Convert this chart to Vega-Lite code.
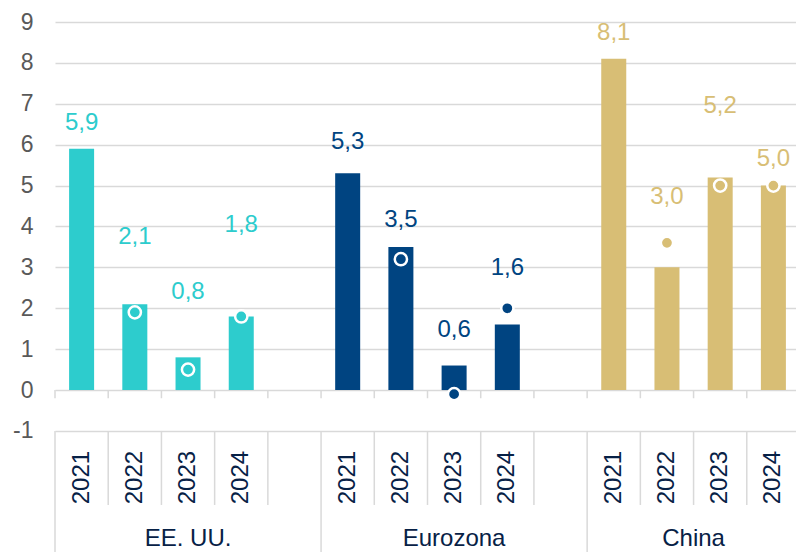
{
  "$schema": "https://vega.github.io/schema/vega-lite/v6.json",
  "width": 741,
  "height": 530,
  "autosize": "none",
  "padding": {"left": 55, "top": 22, "right": 0, "bottom": 0},
  "config": {
    "view": {"stroke": null},
    "font": "Liberation Sans",
    "locale": {"number": {"decimal": ",", "thousands": ".", "grouping": [3], "currency": ["", " €"], "minus": "-"}}
  },
  "datasets": {
    "main": [
      {"group": "EE. UU.", "year": "2021", "slot": "EE. UU. 2021", "value": 5.9, "dot": null, "labelY": 6.53},
      {"group": "EE. UU.", "year": "2022", "slot": "EE. UU. 2022", "value": 2.1, "dot": 1.9, "labelY": 3.75},
      {"group": "EE. UU.", "year": "2023", "slot": "EE. UU. 2023", "value": 0.8, "dot": 0.5, "labelY": 2.4},
      {"group": "EE. UU.", "year": "2024", "slot": "EE. UU. 2024", "value": 1.8, "dot": 1.8, "labelY": 4.03},
      {"group": "Eurozona", "year": "2021", "slot": "Eurozona 2021", "value": 5.3, "dot": null, "labelY": 6.07},
      {"group": "Eurozona", "year": "2022", "slot": "Eurozona 2022", "value": 3.5, "dot": 3.2, "labelY": 4.16},
      {"group": "Eurozona", "year": "2023", "slot": "Eurozona 2023", "value": 0.6, "dot": -0.1, "labelY": 1.47},
      {"group": "Eurozona", "year": "2024", "slot": "Eurozona 2024", "value": 1.6, "dot": 2.0, "labelY": 2.98},
      {"group": "China", "year": "2021", "slot": "China 2021", "value": 8.1, "dot": null, "labelY": 8.72},
      {"group": "China", "year": "2022", "slot": "China 2022", "value": 3.0, "dot": 3.6, "labelY": 4.73},
      {"group": "China", "year": "2023", "slot": "China 2023", "value": 5.2, "dot": 5.0, "labelY": 6.95},
      {"group": "China", "year": "2024", "slot": "China 2024", "value": 5.0, "dot": 5.0, "labelY": 5.64}
    ],
    "slots": [
      {"slot": "EE. UU. 2021", "kind": "long"},
      {"slot": "EE. UU. 2022", "kind": "short"},
      {"slot": "EE. UU. 2023", "kind": "short"},
      {"slot": "EE. UU. 2024", "kind": "short"},
      {"slot": "gap1", "kind": "short"},
      {"slot": "Eurozona 2021", "kind": "long"},
      {"slot": "Eurozona 2022", "kind": "short"},
      {"slot": "Eurozona 2023", "kind": "short"},
      {"slot": "Eurozona 2024", "kind": "short"},
      {"slot": "gap2", "kind": "short"},
      {"slot": "China 2021", "kind": "long"},
      {"slot": "China 2022", "kind": "short"},
      {"slot": "China 2023", "kind": "short"},
      {"slot": "China 2024", "kind": "short"}
    ],
    "groups": [
      {"group": "EE. UU.", "slot": "EE. UU. 2023", "pos": "mid"},
      {"group": "Eurozona", "slot": "Eurozona 2023", "pos": "mid"},
      {"group": "China", "slot": "China 2023", "pos": "start"}
    ]
  },
  "layer": [
    {
      "data": {"name": "main"},
      "mark": {"type": "bar", "width": {"band": 0.47}},
      "encoding": {
        "x": {
          "field": "slot", "type": "nominal", "sort": null,
          "scale": {
            "domain": ["EE. UU. 2021", "EE. UU. 2022", "EE. UU. 2023", "EE. UU. 2024", "gap1", "Eurozona 2021", "Eurozona 2022", "Eurozona 2023", "Eurozona 2024", "gap2", "China 2021", "China 2022", "China 2023", "China 2024"],
            "paddingInner": 0, "paddingOuter": 0, "rangeMax": 745
          },
          "axis": null
        },
        "y": {
          "field": "value", "type": "quantitative",
          "scale": {"domain": [-3.96, 9], "nice": false, "zero": false},
          "axis": {
            "title": null, "values": [-1, 0, 1, 2, 3, 4, 5, 6, 7, 8, 9],
            "ticks": false, "domain": false, "grid": true, "gridColor": "#d9d9d9", "gridWidth": 1.5,
            "labelFontSize": 23, "labelColor": "#595959", "labelPadding": 22, "format": "d"
          }
        },
        "color": {
          "field": "group", "type": "nominal",
          "scale": {"domain": ["EE. UU.", "Eurozona", "China"], "range": ["#2DCCCD", "#004481", "#D8BE75"]},
          "legend": null
        }
      }
    },
    {
      "data": {"name": "slots"},
      "mark": {"type": "rule", "color": "#d9d9d9", "strokeWidth": 1.5},
      "encoding": {
        "x": {"field": "slot", "type": "nominal", "bandPosition": 0},
        "y": {"datum": 0},
        "y2": {"datum": -0.2}
      }
    },
    {
      "data": {"name": "slots"},
      "transform": [{"filter": "datum.kind == 'short'"}],
      "mark": {"type": "rule", "color": "#d9d9d9", "strokeWidth": 1.5},
      "encoding": {
        "x": {"field": "slot", "type": "nominal", "bandPosition": 0},
        "y": {"datum": -1},
        "y2": {"datum": -2.81}
      }
    },
    {
      "data": {"name": "slots"},
      "transform": [{"filter": "datum.kind == 'long'"}],
      "mark": {"type": "rule", "color": "#d9d9d9", "strokeWidth": 1.5},
      "encoding": {
        "x": {"field": "slot", "type": "nominal", "bandPosition": 0},
        "y": {"datum": -1},
        "y2": {"datum": -3.96}
      }
    },
    {
      "data": {"name": "main"},
      "transform": [{"filter": "datum.dot != null"}],
      "mark": {"type": "circle", "size": 150, "opacity": 1, "stroke": "white", "strokeWidth": 2.5},
      "encoding": {
        "x": {"field": "slot", "type": "nominal"},
        "y": {"field": "dot", "type": "quantitative"},
        "color": {"field": "group", "type": "nominal", "legend": null}
      }
    },
    {
      "data": {"name": "main"},
      "mark": {"type": "text", "fontSize": 24, "baseline": "middle", "align": "center"},
      "encoding": {
        "x": {"field": "slot", "type": "nominal"},
        "y": {"field": "labelY", "type": "quantitative"},
        "text": {"field": "value", "type": "quantitative", "format": ".1f"},
        "color": {"field": "group", "type": "nominal", "legend": null}
      }
    },
    {
      "data": {"name": "main"},
      "mark": {"type": "text", "fontSize": 24, "angle": 270, "baseline": "middle", "align": "center", "color": "#072146"},
      "encoding": {
        "x": {"field": "slot", "type": "nominal"},
        "y": {"datum": -2.14},
        "text": {"field": "year", "type": "nominal"}
      }
    },
    {
      "data": {"name": "groups"},
      "transform": [{"filter": "datum.pos == 'mid'"}],
      "mark": {"type": "text", "fontSize": 24, "baseline": "middle", "align": "center", "color": "#072146"},
      "encoding": {
        "x": {"field": "slot", "type": "nominal"},
        "y": {"datum": -3.64},
        "text": {"field": "group", "type": "nominal"}
      }
    },
    {
      "data": {"name": "groups"},
      "transform": [{"filter": "datum.pos == 'start'"}],
      "mark": {"type": "text", "fontSize": 24, "baseline": "middle", "align": "center", "color": "#072146"},
      "encoding": {
        "x": {"field": "slot", "type": "nominal", "bandPosition": 0},
        "y": {"datum": -3.64},
        "text": {"field": "group", "type": "nominal"}
      }
    }
  ]
}
